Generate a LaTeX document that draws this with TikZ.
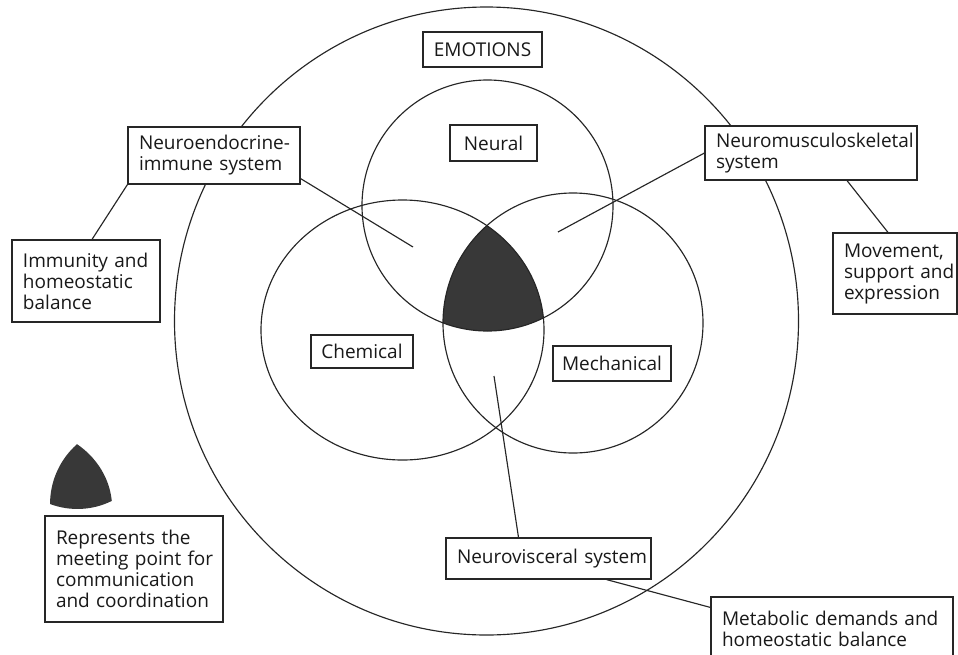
\documentclass[tikz,border=0pt]{standalone}
\usepackage{fontspec}
\setmainfont{Open Sans}
\newcommand{\keepline}[1]{\mbox{#1}}
\begin{document}
\begin{tikzpicture}[x=1pt,y=-1pt,
  ink/.style={draw=black!85, line width=1.15pt},
  box/.style={ink, rectangle, fill=white, inner xsep=11pt, inner ysep=0pt,
    align=left, text=black!90, font=\fontsize{19}{21}\selectfont},
  tag/.style={box, align=center, inner xsep=0pt},
  link/.style={ink},
  core/.style={fill=black!78}]

\useasboundingbox (0,0) rectangle (958,654);

% shared core of the three fields
\begin{scope}
  \clip (487.5,205.5) circle [radius=125.5];
  \clip (402.5,330) ellipse [x radius=141.5, y radius=130];
  \fill[core] (573,323) circle [radius=130];
\end{scope}

% outer ring and the three overlapping fields
\draw[ink] (486.5,321) ellipse [x radius=312, y radius=314];
\draw[ink] (487.5,205.5) circle [radius=125.5];
\draw[ink] (402.5,330) ellipse [x radius=141.5, y radius=130];
\draw[ink] (573,323) circle [radius=130];

% legend symbol: the same core, reduced
\begin{scope}[shift={(-222.4,305.4)}, scale=0.615]
  \clip (487.5,205.5) circle [radius=125.5];
  \clip (402.5,330) ellipse [x radius=141.5, y radius=130];
  \fill[core] (573,323) circle [radius=130];
\end{scope}

% free ends of the pointers
\coordinate (pNEI) at (413,247);
\coordinate (pNMS) at (558,232);
\coordinate (pNV)  at (494,376);

% labels
\node[tag, minimum width=119, minimum height=35] (emo) at (482.5,49.5) {EMOTIONS};
\node[tag, minimum width=87, minimum height=36] (neu) at (493.5,143) {Neural};
\node[tag, minimum width=102, minimum height=33] (che) at (362,351.5) {Chemical};
\node[tag, minimum width=118, minimum height=35] (mec) at (612,363.5) {Mechanical};

\node[box, text width=150, minimum height=57] (nei) at (214,155.5)
  {\keepline{Neuroendocrine-}\\\keepline{immune system}};
\node[box, text width=190, minimum height=54] (nms) at (811,153)
  {\keepline{Neuromusculoskeletal}\\\keepline{system}};
\node[box, text width=126, minimum height=82] (imm) at (86,281)
  {\keepline{Immunity and}\\\keepline{homeostatic}\\\keepline{balance}};
\node[box, text width=102, minimum height=81] (mov) at (895,273.5)
  {\keepline{Movement,}\\\keepline{support and}\\\keepline{expression}};
\node[box, text width=156, minimum height=106] (rep) at (134,569)
  {\keepline{Represents the}\\\keepline{meeting point for}\\\keepline{communication}\\\keepline{and coordination}};
\node[box, text width=183, minimum height=41] (nvs) at (548.5,558.5)
  {\keepline{Neurovisceral system}};
\node[box, text width=220, minimum height=63] (met) at (832,628.5)
  {\keepline{Metabolic demands and}\\\keepline{homeostatic balance}};

% connectors from each box to what it names
\draw[link] (nei.south west) -- ([xshift=6pt]imm.north);
\draw[link] ([yshift=6pt]nei.south east) -- (pNEI);
\draw[link] (nms.west) -- (pNMS);
\draw[link] ([xshift=36pt]nms.south) -- ([xshift=-7pt]mov.north);
\draw[link] ([xshift=-30pt]nvs.north) -- (pNV);
\draw[link] ([xshift=58pt]nvs.south) -- ([yshift=-11pt]met.north west);

\end{tikzpicture}
\end{document}
